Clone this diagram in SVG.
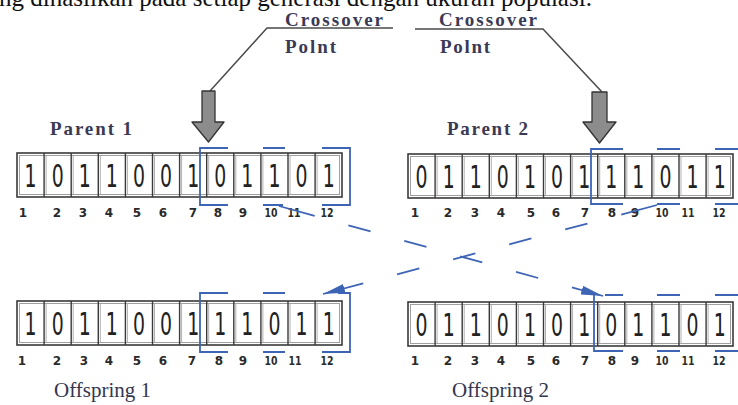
<svg xmlns="http://www.w3.org/2000/svg" xmlns:xlink="http://www.w3.org/1999/xlink" width="738" height="405" viewBox="0 0 738 405">
<style>
.top{font-family:"Liberation Serif","Times New Roman",serif;font-size:25px;fill:#111}
.lbl{font-family:"Liberation Serif","Times New Roman",serif;font-size:19px;font-weight:bold;fill:#3a3a55}
.off{font-family:"Liberation Serif","Times New Roman",serif;font-size:21px;fill:#35364f}
.d{font-family:"DejaVu Sans","Liberation Sans",sans-serif;font-size:32px;fill:#222;text-anchor:middle}
.n{font-family:"DejaVu Sans","Liberation Sans",sans-serif;font-size:12px;font-weight:bold;fill:#2a2a2a;text-anchor:middle}
.lead{fill:none;stroke:#4a4a4a;stroke-width:1.5}
.garrow{fill:#8c8c8c;stroke:#333;stroke-width:1.3;stroke-linejoin:round}
.br{fill:none;stroke:#3e64b5;stroke-width:1.8}
.cx{fill:none;stroke:#3e64b5;stroke-width:1.8;stroke-dasharray:37 35 23 35 23 35 23 35 23 35 90}
</style>
<defs>
<g id="frame">
<rect x="0" y="0" width="325" height="44" fill="#fff" stroke="#3a3a3a" stroke-width="1.6"/>
<rect x="2.5" y="2.5" width="320" height="39" fill="none" stroke="#a0a0a0" stroke-width="1"/>
<path d="M27.1,0V44M54.2,0V44M81.3,0V44M108.4,0V44M135.5,0V44M162.6,0V44M189.7,0V44M216.8,0V44M243.9,0V44M271,0V44M298.1,0V44" stroke="#3a3a3a" stroke-width="1.4"/>
<path d="M29.1,2.5V41.5M56.2,2.5V41.5M83.3,2.5V41.5M110.4,2.5V41.5M137.5,2.5V41.5M164.6,2.5V41.5M191.7,2.5V41.5M218.8,2.5V41.5M245.9,2.5V41.5M273,2.5V41.5M300.1,2.5V41.5" stroke="#b0b0b0" stroke-width="1"/>
</g>
<marker id="ah" markerUnits="userSpaceOnUse" markerWidth="22" markerHeight="9" viewBox="0 0 22 9" refX="22" refY="4.5" orient="auto">
<path d="M0,0 L22,4.5 L0,9 Z" fill="#3e64b5"/>
</marker>
</defs>

<g id="top-text">
<text class="top" x="-1" y="6">ng dihasilkan pada setiap generasi dengan ukuran populasi.</text>
</g>

<g id="crossover-point-1">
<text class="lbl" x="285" y="26" textLength="98">Crossover</text>
<text class="lbl" x="285" y="53" textLength="51">Polnt</text>
<path class="lead" d="M393,28 H267 L210,91"/>
<polygon class="garrow" points="202,91 215,91 215,122 224,122 208.5,142 192,122 202,122"/>
</g>

<g id="crossover-point-2">
<text class="lbl" x="439" y="26" textLength="98">Crossover</text>
<text class="lbl" x="440" y="53" textLength="50">Polnt</text>
<path class="lead" d="M415,29 H543 L602,92"/>
<polygon class="garrow" points="592,92 607,92 607,122 616,122 599.5,143 583,122 592,122"/>
</g>

<g id="parent1">
<text class="lbl" x="50" y="135" textLength="82">Parent 1</text>
<use xlink:href="#frame" x="17" y="153"/>
<text class="d" x="30.55" y="187" textLength="12" lengthAdjust="spacingAndGlyphs">1</text>
<text class="d" x="57.65" y="187" textLength="12" lengthAdjust="spacingAndGlyphs">0</text>
<text class="d" x="84.75" y="187" textLength="12" lengthAdjust="spacingAndGlyphs">1</text>
<text class="d" x="111.85" y="187" textLength="12" lengthAdjust="spacingAndGlyphs">1</text>
<text class="d" x="138.95" y="187" textLength="12" lengthAdjust="spacingAndGlyphs">0</text>
<text class="d" x="166.05" y="187" textLength="12" lengthAdjust="spacingAndGlyphs">0</text>
<text class="d" x="193.15" y="187" textLength="12" lengthAdjust="spacingAndGlyphs">1</text>
<text class="d" x="220.25" y="187" textLength="12" lengthAdjust="spacingAndGlyphs">0</text>
<text class="d" x="247.35" y="187" textLength="12" lengthAdjust="spacingAndGlyphs">1</text>
<text class="d" x="274.45" y="187" textLength="12" lengthAdjust="spacingAndGlyphs">1</text>
<text class="d" x="301.55" y="187" textLength="12" lengthAdjust="spacingAndGlyphs">0</text>
<text class="d" x="328.65" y="187" textLength="12" lengthAdjust="spacingAndGlyphs">1</text>
<text class="n" x="23" y="217">1</text><text class="n" x="57" y="217">2</text><text class="n" x="83" y="217">3</text><text class="n" x="109" y="217">4</text><text class="n" x="137" y="217">5</text><text class="n" x="163" y="217">6</text><text class="n" x="193" y="217">7</text><text class="n" x="218" y="217">8</text><text class="n" x="243" y="217">9</text><text class="n" x="271" y="217" textLength="13" lengthAdjust="spacingAndGlyphs">10</text><text class="n" x="294" y="217" textLength="13" lengthAdjust="spacingAndGlyphs">11</text><text class="n" x="327" y="217" textLength="13" lengthAdjust="spacingAndGlyphs">12</text>
<path class="br" d="M228,148 H200 V205 H228 M263,148 H285 M263,205 H283 M322,148 H350 V205 H322"/>
</g>

<g id="parent2">
<text class="lbl" x="447" y="135" textLength="81">Parent 2</text>
<use xlink:href="#frame" x="408" y="154"/>
<text class="d" x="421.55" y="188" textLength="12" lengthAdjust="spacingAndGlyphs">0</text>
<text class="d" x="448.65" y="188" textLength="12" lengthAdjust="spacingAndGlyphs">1</text>
<text class="d" x="475.75" y="188" textLength="12" lengthAdjust="spacingAndGlyphs">1</text>
<text class="d" x="502.85" y="188" textLength="12" lengthAdjust="spacingAndGlyphs">0</text>
<text class="d" x="529.95" y="188" textLength="12" lengthAdjust="spacingAndGlyphs">1</text>
<text class="d" x="557.05" y="188" textLength="12" lengthAdjust="spacingAndGlyphs">0</text>
<text class="d" x="584.15" y="188" textLength="12" lengthAdjust="spacingAndGlyphs">1</text>
<text class="d" x="611.25" y="188" textLength="12" lengthAdjust="spacingAndGlyphs">1</text>
<text class="d" x="638.35" y="188" textLength="12" lengthAdjust="spacingAndGlyphs">1</text>
<text class="d" x="665.45" y="188" textLength="12" lengthAdjust="spacingAndGlyphs">0</text>
<text class="d" x="692.55" y="188" textLength="12" lengthAdjust="spacingAndGlyphs">1</text>
<text class="d" x="719.65" y="188" textLength="12" lengthAdjust="spacingAndGlyphs">1</text>
<text class="n" x="415" y="217">1</text><text class="n" x="448" y="217">2</text><text class="n" x="475" y="217">3</text><text class="n" x="501" y="217">4</text><text class="n" x="531" y="217">5</text><text class="n" x="556" y="217">6</text><text class="n" x="585" y="217">7</text><text class="n" x="612" y="217">8</text><text class="n" x="635" y="217">9</text><text class="n" x="662" y="217" textLength="13" lengthAdjust="spacingAndGlyphs">10</text><text class="n" x="688" y="217" textLength="13" lengthAdjust="spacingAndGlyphs">11</text><text class="n" x="719" y="217" textLength="13" lengthAdjust="spacingAndGlyphs">12</text>
<path class="br" d="M623,149 H591 V204 H623 M657,149 H680 M715,149 H738 M657,204 H680 M715,204 H738"/>
</g>

<g id="offspring1">
<use xlink:href="#frame" x="17" y="301"/>
<text class="d" x="30.55" y="335" textLength="12" lengthAdjust="spacingAndGlyphs">1</text>
<text class="d" x="57.65" y="335" textLength="12" lengthAdjust="spacingAndGlyphs">0</text>
<text class="d" x="84.75" y="335" textLength="12" lengthAdjust="spacingAndGlyphs">1</text>
<text class="d" x="111.85" y="335" textLength="12" lengthAdjust="spacingAndGlyphs">1</text>
<text class="d" x="138.95" y="335" textLength="12" lengthAdjust="spacingAndGlyphs">0</text>
<text class="d" x="166.05" y="335" textLength="12" lengthAdjust="spacingAndGlyphs">0</text>
<text class="d" x="193.15" y="335" textLength="12" lengthAdjust="spacingAndGlyphs">1</text>
<text class="d" x="220.25" y="335" textLength="12" lengthAdjust="spacingAndGlyphs">1</text>
<text class="d" x="247.35" y="335" textLength="12" lengthAdjust="spacingAndGlyphs">1</text>
<text class="d" x="274.45" y="335" textLength="12" lengthAdjust="spacingAndGlyphs">0</text>
<text class="d" x="301.55" y="335" textLength="12" lengthAdjust="spacingAndGlyphs">1</text>
<text class="d" x="328.65" y="335" textLength="12" lengthAdjust="spacingAndGlyphs">1</text>
<text class="n" x="22" y="365">1</text><text class="n" x="57" y="365">2</text><text class="n" x="84" y="365">3</text><text class="n" x="109" y="365">4</text><text class="n" x="137" y="365">5</text><text class="n" x="163" y="365">6</text><text class="n" x="192" y="365">7</text><text class="n" x="219" y="365">8</text><text class="n" x="243" y="365">9</text><text class="n" x="271" y="365" textLength="13" lengthAdjust="spacingAndGlyphs">10</text><text class="n" x="295" y="365" textLength="13" lengthAdjust="spacingAndGlyphs">11</text><text class="n" x="327" y="365" textLength="13" lengthAdjust="spacingAndGlyphs">12</text>
<path class="br" d="M228,293 H200 V352 H228 M263,293 H285 M263,352 H285 M338,293 H350 V352 H322"/>
<text class="off" x="54" y="397">Offspring 1</text>
</g>

<g id="offspring2">
<use xlink:href="#frame" x="408" y="302"/>
<text class="d" x="421.55" y="336" textLength="12" lengthAdjust="spacingAndGlyphs">0</text>
<text class="d" x="448.65" y="336" textLength="12" lengthAdjust="spacingAndGlyphs">1</text>
<text class="d" x="475.75" y="336" textLength="12" lengthAdjust="spacingAndGlyphs">1</text>
<text class="d" x="502.85" y="336" textLength="12" lengthAdjust="spacingAndGlyphs">0</text>
<text class="d" x="529.95" y="336" textLength="12" lengthAdjust="spacingAndGlyphs">1</text>
<text class="d" x="557.05" y="336" textLength="12" lengthAdjust="spacingAndGlyphs">0</text>
<text class="d" x="584.15" y="336" textLength="12" lengthAdjust="spacingAndGlyphs">1</text>
<text class="d" x="611.25" y="336" textLength="12" lengthAdjust="spacingAndGlyphs">0</text>
<text class="d" x="638.35" y="336" textLength="12" lengthAdjust="spacingAndGlyphs">1</text>
<text class="d" x="665.45" y="336" textLength="12" lengthAdjust="spacingAndGlyphs">1</text>
<text class="d" x="692.55" y="336" textLength="12" lengthAdjust="spacingAndGlyphs">0</text>
<text class="d" x="719.65" y="336" textLength="12" lengthAdjust="spacingAndGlyphs">1</text>
<text class="n" x="415" y="365">1</text><text class="n" x="448" y="365">2</text><text class="n" x="475" y="365">3</text><text class="n" x="501" y="365">4</text><text class="n" x="531" y="365">5</text><text class="n" x="556" y="365">6</text><text class="n" x="585" y="365">7</text><text class="n" x="612" y="365">8</text><text class="n" x="635" y="365">9</text><text class="n" x="662" y="365" textLength="13" lengthAdjust="spacingAndGlyphs">10</text><text class="n" x="688" y="365" textLength="13" lengthAdjust="spacingAndGlyphs">11</text><text class="n" x="719" y="365" textLength="13" lengthAdjust="spacingAndGlyphs">12</text>
<path class="br" d="M594,295 V351 H623 M605,295 H623 M657,295 H680 M715,295 H738 M657,351 H680 M715,351 H738"/>
<text class="off" x="452" y="397">Offspring 2</text>
</g>

<g id="connectors">
<path class="cx" d="M279,206 L603,296" marker-end="url(#ah)"/>
<path class="cx" d="M657,205 L323,294" marker-end="url(#ah)"/>
</g>
</svg>
